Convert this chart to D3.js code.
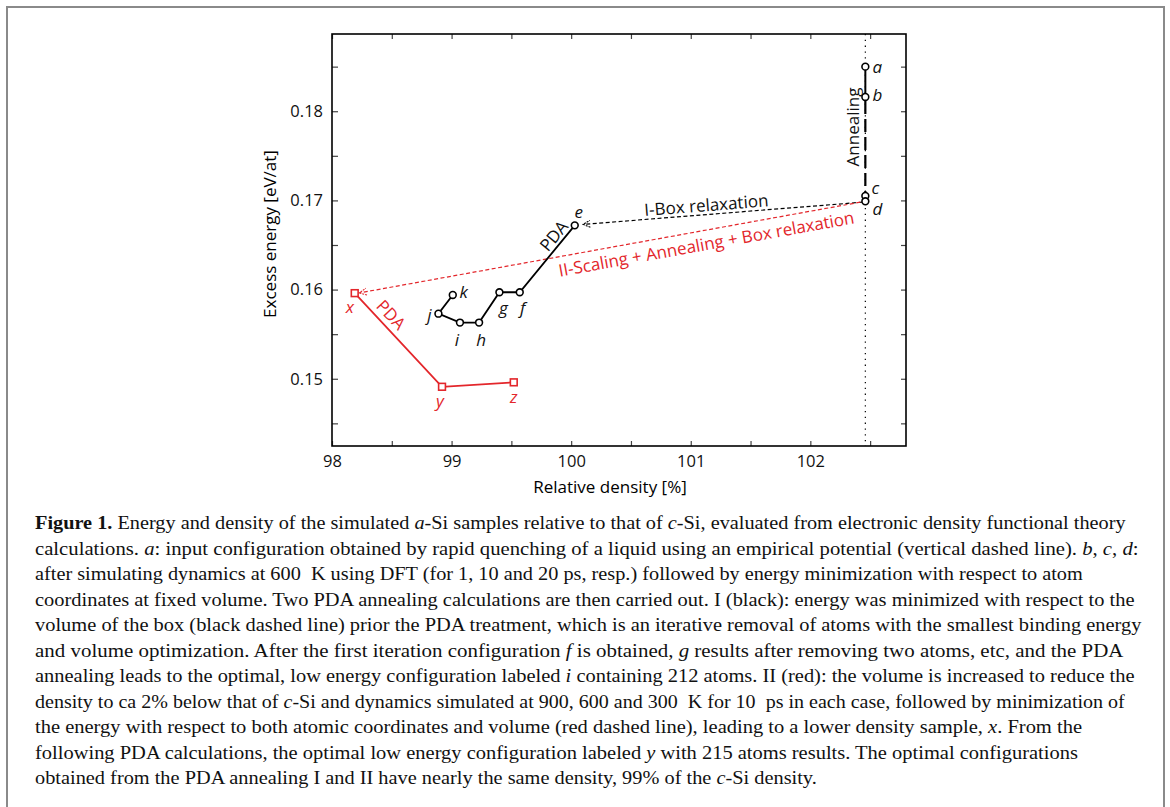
<!DOCTYPE html>
<html>
<head>
<meta charset="utf-8">
<script src="https://cdn.jsdelivr.net/npm/d3@7"></script>
<style>
  body { margin: 0; background: #fff; }
  .plot text { font-family: "Open Sans", sans-serif; }
  .caption text { font-family: "Liberation Serif", serif; font-size: 18.5px; fill: #111; }
</style>
</head>
<body>
<div id="chart"></div>
<script>
// annealing at fixed volume (a -> d)
const annealNames = ["a", "b", "c", "d"];
const annealDensity = [102.46, 102.46, 102.46, 102.46];
const annealEnergy = [0.1850, 0.1816, 0.1705, 0.1699];

// I: box relaxation, then PDA (e -> k)
const pdaINames = ["e", "f", "g", "h", "i", "j", "k"];
const pdaIDensity = [100.03, 99.57, 99.40, 99.23, 99.07, 98.89, 99.01];
const pdaIEnergy = [0.1672, 0.1597, 0.1597, 0.1563, 0.1563, 0.1573, 0.1594];

// II: scaling + annealing + box relaxation, then PDA (x -> z)
const pdaIINames = ["x", "y", "z"];
const pdaIIDensity = [98.19, 98.92, 99.52];
const pdaIIEnergy = [0.1596, 0.1491, 0.1496];

// dashed relaxation arrows [density, energy] start -> tip
const arrowI = [[102.435, 0.1698], [100.10, 0.16731]];
const arrowII = [[102.417, 0.1698], [98.23, 0.15963]];

const xTicks = [98, 99, 100, 101, 102];
const yTicks = [0.15, 0.16, 0.17, 0.18];

const captionLines = [
  "**Figure 1.** Energy and density of the simulated *a*-Si samples relative to that of *c*-Si, evaluated from electronic density functional theory",
  "calculations. *a*: input configuration obtained by rapid quenching of a liquid using an empirical potential (vertical dashed line). *b*, *c*, *d*:",
  "after simulating dynamics at 600  K using DFT (for 1, 10 and 20 ps, resp.) followed by energy minimization with respect to atom",
  "coordinates at fixed volume. Two PDA annealing calculations are then carried out. I (black): energy was minimized with respect to the",
  "volume of the box (black dashed line) prior the PDA treatment, which is an iterative removal of atoms with the smallest binding energy",
  "and volume optimization. After the first iteration configuration *f* is obtained, *g* results after removing two atoms, etc, and the PDA",
  "annealing leads to the optimal, low energy configuration labeled *i* containing 212 atoms. II (red): the volume is increased to reduce the",
  "density to ca 2% below that of *c*-Si and dynamics simulated at 900, 600 and 300  K for 10  ps in each case, followed by minimization of",
  "the energy with respect to both atomic coordinates and volume (red dashed line), leading to a lower density sample, *x*. From the",
  "following PDA calculations, the optimal low energy configuration labeled *y* with 215 atoms results. The optimal configurations",
  "obtained from the PDA annealing I and II have nearly the same density, 99% of the *c*-Si density."
];
// measured line widths in the figure
const captionWidths = [1091, 1104, 1048, 1100, 1107, 1089, 1100, 1091, 1048, 1044, 782];

const red = "#e3262b";

// label offsets (px) for the point names
const labelOffset = {
  a: [12, 0], b: [12, -2], c: [10, -8], d: [12, 7],
  e: [4, -14], f: [3, 15], g: [4, 15], h: [2, 17], i: [-3, 17], j: [-9, 1], k: [11, -3],
  x: [-5, 13], y: [-2, 14], z: [0, 14]
};

const svgWidth = 1170, svgHeight = 807;
const margin = { top: 34, left: 332 };
const width = 574, height = 412;

const svg = d3.select("#chart").append("svg")
  .attr("width", svgWidth)
  .attr("height", svgHeight);

// outer frame of the figure
svg.append("rect")
  .attr("x", 7).attr("y", 7)
  .attr("width", 1157).attr("height", 830)
  .attr("fill", "none")
  .attr("stroke", "#8a8a8a")
  .attr("stroke-width", 2);

const g = svg.append("g")
  .attr("class", "plot")
  .attr("transform", "translate(" + margin.left + "," + margin.top + ")");

const x = d3.scaleLinear().domain([98, 102.8]).range([0, width]);
const y = d3.scaleLinear().domain([0.14246, 0.18866]).range([height, 0]);

// ticks every 0.5 % and every 0.005 eV, labels on the majors
const xMinor = d3.range(0, 10).map(i => 98 + i * 0.5);
const yMinor = d3.range(0, 9).map(i => +(0.145 + i * 0.005).toFixed(3));

function styleAxis(sel) {
  sel.select(".domain").remove();
  sel.selectAll(".tick line").attr("stroke", "#444").attr("stroke-width", 1.2);
  sel.selectAll(".tick text")
    .attr("fill", "#111")
    .style("font-size", "16.5px");
}

g.append("g")
  .attr("transform", "translate(0," + height + ")")
  .call(d3.axisBottom(x).tickValues(xMinor).tickSize(-5).tickPadding(9)
    .tickFormat(d => xTicks.includes(d) ? d : ""))
  .call(styleAxis);

g.append("g")
  .call(d3.axisTop(x).tickValues(xMinor).tickSize(-5).tickFormat(""))
  .call(styleAxis);

g.append("g")
  .call(d3.axisLeft(y).tickValues(yMinor).tickSize(-6).tickPadding(9)
    .tickFormat(d => yTicks.includes(d) ? d3.format(".2f")(d) : ""))
  .call(styleAxis);

g.append("g")
  .attr("transform", "translate(" + width + ",0)")
  .call(d3.axisRight(y).tickValues(yMinor).tickSize(-5).tickFormat(""))
  .call(styleAxis);

g.append("rect")
  .attr("width", width).attr("height", height)
  .attr("fill", "none")
  .attr("stroke", "#000")
  .attr("stroke-width", 1.6);

// axis titles
g.append("text")
  .attr("x", width / 2 - 9)
  .attr("y", height + 47)
  .attr("text-anchor", "middle")
  .style("font-size", "17px")
  .text("Relative density [%]");

g.append("text")
  .attr("transform", "translate(-56," + (height / 2 - 6) + ") rotate(-90)")
  .attr("text-anchor", "middle")
  .style("font-size", "17px")
  .text("Excess energy [eV/at]");

// vertical dotted line through the annealing column
g.append("line")
  .attr("x1", x(annealDensity[0])).attr("x2", x(annealDensity[0]))
  .attr("y1", 0).attr("y2", height)
  .attr("stroke", "#000")
  .attr("stroke-width", 1.2)
  .attr("stroke-dasharray", "1.3,4.5");

// arrow heads
const defs = svg.append("defs");
[["headBlack", "#000"], ["headRed", red]].forEach(([id, c]) => {
  defs.append("marker")
    .attr("id", id)
    .attr("viewBox", "-10 -6 12 12")
    .attr("refX", 0).attr("refY", 0)
    .attr("markerWidth", 12).attr("markerHeight", 12)
    .attr("markerUnits", "userSpaceOnUse")
    .attr("orient", "auto")
    .append("path")
    .attr("d", "M-7,-3.5L0,0L-7,3.5")
    .attr("fill", "none")
    .attr("stroke", c)
    .attr("stroke-width", 1.1)
    .attr("stroke-dasharray", "2,1");
});

const line = d3.line().x(d => x(d[0])).y(d => y(d[1]));

g.append("path")
  .attr("d", line(arrowI))
  .attr("fill", "none")
  .attr("stroke", "#000")
  .attr("stroke-width", 1.2)
  .attr("stroke-dasharray", "4,2.5")
  .attr("marker-end", "url(#headBlack)");

g.append("path")
  .attr("d", line(arrowII))
  .attr("fill", "none")
  .attr("stroke", red)
  .attr("stroke-width", 1.2)
  .attr("stroke-dasharray", "4,2.5")
  .attr("marker-end", "url(#headRed)");

const anneal = annealNames.map((n, i) => ({ name: n, x: annealDensity[i], e: annealEnergy[i] }));
const pdaI = pdaINames.map((n, i) => ({ name: n, x: pdaIDensity[i], e: pdaIEnergy[i] }));
const pdaII = pdaIINames.map((n, i) => ({ name: n, x: pdaIIDensity[i], e: pdaIIEnergy[i] }));

const pline = d3.line().x(d => x(d.x)).y(d => y(d.e));

// a -> b solid, b -> c long dashes
g.append("path")
  .attr("d", pline(anneal.slice(0, 2)))
  .attr("fill", "none").attr("stroke", "#000").attr("stroke-width", 2);
g.append("path")
  .attr("d", pline(anneal.slice(1, 3)))
  .attr("fill", "none").attr("stroke", "#000").attr("stroke-width", 2.2)
  .attr("stroke-dasharray", "13,5")
  .attr("stroke-dashoffset", -4);

g.append("path")
  .attr("d", pline(pdaI))
  .attr("fill", "none").attr("stroke", "#000").attr("stroke-width", 1.8);

g.append("path")
  .attr("d", pline(pdaII))
  .attr("fill", "none").attr("stroke", red).attr("stroke-width", 1.8);

// markers
g.selectAll(".blackPt")
  .data(anneal.concat(pdaI))
  .join("circle")
  .attr("cx", d => x(d.x)).attr("cy", d => y(d.e))
  .attr("r", 3.4)
  .attr("fill", "#fff").attr("stroke", "#000").attr("stroke-width", 1.6);

g.selectAll(".redPt")
  .data(pdaII)
  .join("rect")
  .attr("x", d => x(d.x) - 3.4).attr("y", d => y(d.e) - 3.4)
  .attr("width", 6.8).attr("height", 6.8)
  .attr("fill", "#fff").attr("stroke", red).attr("stroke-width", 1.6);

// point names
g.selectAll(".ptLabel")
  .data(anneal.concat(pdaI).map(d => Object.assign({ c: "#111" }, d))
    .concat(pdaII.map(d => Object.assign({ c: red }, d))))
  .join("text")
  .attr("x", d => x(d.x) + labelOffset[d.name][0])
  .attr("y", d => y(d.e) + labelOffset[d.name][1])
  .attr("text-anchor", "middle")
  .attr("dominant-baseline", "central")
  .attr("fill", d => d.c)
  .style("font-size", "17px")
  .style("font-style", "italic")
  .text(d => d.name);

// rotated annotations
function angle(p0, p1) {
  return Math.atan2(y(p1[1]) - y(p0[1]), x(p1[0]) - x(p0[0])) * 180 / Math.PI;
}
function note(text, pos, rot, color) {
  g.append("text")
    .attr("transform", "translate(" + x(pos[0]) + "," + y(pos[1]) + ") rotate(" + rot + ")")
    .attr("text-anchor", "middle")
    .attr("dominant-baseline", "central")
    .attr("fill", color)
    .style("font-size", "17px")
    .text(text);
}

let aI = angle(arrowI[1], arrowI[0]);
let aII = angle(arrowII[1], arrowII[0]);
let aPdaI = angle([pdaI[1].x, pdaI[1].e], [pdaI[0].x, pdaI[0].e]);
let aPdaII = angle([pdaII[0].x, pdaII[0].e], [pdaII[1].x, pdaII[1].e]);

note("Annealing", [102.35, 0.17823], -90, "#111");
note("I-Box relaxation", [101.13, 0.16952], aI, "#111");
note("II-Scaling + Annealing + Box relaxation", [101.13, 0.16516], aII, red);
note("PDA", [99.852, 0.16605], aPdaI, "#111");
note("PDA", [98.497, 0.15721], aPdaII, red);

// caption, each line fitted to the width it has in the figure
const cap = svg.append("g").attr("class", "caption");
captionLines.forEach((ln, i) => {
  const t = cap.append("text").attr("x", 0).attr("y", 0);
  ln.split(/(\*\*[^*]+\*\*|\*[^*]+\*)/).filter(s => s.length).forEach(part => {
    const ts = t.append("tspan").style("white-space", "pre");
    if (part.startsWith("**")) ts.style("font-weight", "bold").text(part.slice(2, -2));
    else if (part.startsWith("*")) ts.style("font-style", "italic").text(part.slice(1, -1));
    else ts.text(part);
  });
  const w = t.node().getComputedTextLength();
  t.attr("transform", "translate(35," + (529 + i * 25.5) + ") scale(" + (captionWidths[i] / w) + ",1)");
});
</script>
</body>
</html>
